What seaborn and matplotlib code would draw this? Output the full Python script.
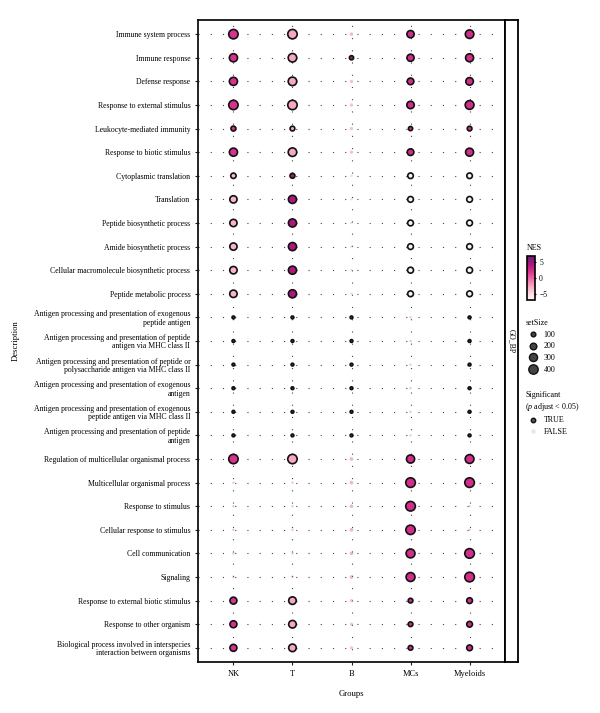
import numpy as np
import pandas as pd
import seaborn as sns
import matplotlib.pyplot as plt
from matplotlib.colors import LinearSegmentedColormap, Normalize
from matplotlib.lines import Line2D
import matplotlib.cm as cm

descriptions = [
    "Immune system process",
    "Immune response",
    "Defense response",
    "Response to external stimulus",
    "Leukocyte-mediated immunity",
    "Response to biotic stimulus",
    "Cytoplasmic translation",
    "Translation",
    "Peptide biosynthetic process",
    "Amide biosynthetic process",
    "Cellular macromolecule biosynthetic process",
    "Peptide metabolic process",
    "Antigen processing and presentation of exogenous\npeptide antigen",
    "Antigen processing and presentation of peptide\nantigen via MHC class II",
    "Antigen processing and presentation of peptide or\npolysaccharide antigen via MHC class II",
    "Antigen processing and presentation of exogenous\nantigen",
    "Antigen processing and presentation of exogenous\npeptide antigen via MHC class II",
    "Antigen processing and presentation of peptide\nantigen",
    "Regulation of multicellular organismal process",
    "Multicellular organismal process",
    "Response to stimulus",
    "Cellular response to stimulus",
    "Cell communication",
    "Signaling",
    "Response to external biotic stimulus",
    "Response to other organism",
    "Biological process involved in interspecies\ninteraction between organisms",
]
groups = ["NK", "T", "B", "MCs", "Myeloids"]

# NES per group (one value per description)
nes_nk = [2.1, 2.1, 2.1, 2.1, 2.1, 2.1, -3.5, -3.2, -3.2, -3.2, -3.2, -3.2,
          5.5, 5.5, 5.5, 5.5, 5.5, 5.5, 2.1, 1.0, 1.0, 1.0, 1.0, 1.0, 2.1, 2.1, 2.1]
nes_t = [-2.6, -2.6, -2.6, -2.6, -2.6, -2.6, 4.2, 4.2, 4.2, 4.2, 4.2, 4.2,
         5.5, 5.5, 5.5, 5.5, 5.5, 5.5, -2.6, 1.0, 1.0, 1.0, 1.0, 1.0, -2.6, -2.6, -2.6]
nes_b = [1.5, 4.0, 1.0, 1.0, 1.0, 1.0, -1.0, -1.0, -1.0, -1.0, -1.0, -1.0,
         5.5, 5.5, 5.5, 5.5, 5.5, 5.5, 2.5, 2.5, 2.5, 2.5, 2.5, 2.5, 0.5, 0.5, 0.5]
nes_mcs = [2.4, 2.4, 2.4, 2.4, 2.4, 2.4, -6.5, -6.5, -6.5, -6.5, -6.5, -6.5,
           1.0, 1.0, 1.0, 1.0, 1.0, 1.0, 2.4, 2.4, 2.4, 2.4, 2.4, 2.4, 2.4, 2.4, 2.4]
nes_mye = [2.4, 2.4, 2.4, 2.4, 2.4, 2.4, -6.5, -6.5, -6.5, -6.5, -6.5, -6.5,
           5.5, 5.5, 5.5, 5.5, 5.5, 5.5, 2.4, 2.4, 1.0, 1.0, 2.4, 2.4, 2.4, 2.4, 2.4]

# setSize per group
size_nk = [400, 300, 300, 400, 110, 300, 130, 240, 240, 240, 250, 250,
           35, 35, 35, 35, 35, 35, 400, 25, 25, 25, 25, 25, 220, 220, 220]
size_t = [400, 330, 330, 400, 100, 330, 110, 300, 300, 300, 300, 300,
          35, 35, 35, 35, 35, 35, 400, 25, 25, 25, 25, 25, 260, 260, 260]
size_b = [60, 80, 50, 50, 50, 50, 25, 25, 25, 25, 25, 25,
          35, 35, 35, 35, 35, 35, 60, 60, 60, 60, 60, 60, 50, 50, 50]
size_mcs = [240, 230, 200, 250, 80, 200, 140, 150, 150, 150, 160, 150,
            25, 25, 25, 25, 25, 25, 300, 420, 460, 400, 360, 360, 100, 100, 100]
size_mye = [330, 290, 260, 350, 100, 290, 140, 150, 150, 150, 160, 150,
            35, 35, 35, 35, 35, 35, 350, 450, 25, 25, 420, 420, 150, 150, 150]

# significance (p.adjust < 0.05)
sig_nk = [True] * 19 + [False] * 5 + [True] * 3
sig_t = [True] * 19 + [False] * 5 + [True] * 3
sig_b = [False, True] + [False] * 10 + [True] * 6 + [False] * 9
sig_mcs = [True] * 12 + [False] * 6 + [True] * 9
sig_mye = [True] * 20 + [False] * 2 + [True] * 5

rows = []
for g, nes, sz, sg in zip(groups,
                          [nes_nk, nes_t, nes_b, nes_mcs, nes_mye],
                          [size_nk, size_t, size_b, size_mcs, size_mye],
                          [sig_nk, sig_t, sig_b, sig_mcs, sig_mye]):
    for i, d in enumerate(descriptions):
        rows.append({"Description": d, "Groups": g, "NES": nes[i],
                     "setSize": sz[i], "Significant": sg[i]})
df = pd.DataFrame(rows)
df["x"] = df["Groups"].map({g: i for i, g in enumerate(groups)})
df["y"] = df["Description"].map({d: i for i, d in enumerate(descriptions)})

cmap = LinearSegmentedColormap.from_list("nes", [
    (0.0, "#fff6f4"), (0.15, "#fcd9e1"), (0.33, "#f6a2bc"), (0.5, "#ec5fa5"),
    (0.65, "#d9318f"), (0.8, "#b0177c"), (1.0, "#6a1b7c")])
nes_norm = (-7, 7)
size_norm = (0, 420)
size_range = (0, 48)

plt.rcParams["font.family"] = ["Liberation Serif", "DejaVu Serif"]
plt.rcParams["mathtext.fontset"] = "custom"
plt.rcParams["mathtext.it"] = "Liberation Serif:italic"
plt.rcParams["mathtext.rm"] = "Liberation Serif"

fig = plt.figure(figsize=(6, 7.13), dpi=100)
ax = fig.add_axes([198 / 600, 1 - 662 / 713, 307 / 600, 642 / 713])

sns.scatterplot(data=df[~df["Significant"]], x="x", y="y", hue="NES", size="setSize",
                palette=cmap, hue_norm=nes_norm, sizes=size_range, size_norm=size_norm,
                alpha=0.35, edgecolor="none", legend=False, ax=ax, zorder=3)
sns.scatterplot(data=df[df["Significant"]], x="x", y="y", hue="NES", size="setSize",
                palette=cmap, hue_norm=nes_norm, sizes=size_range, size_norm=size_norm,
                edgecolor="#111111", linewidth=1.2, legend=False, ax=ax, zorder=4)

ax.set_xlim(-0.6, len(groups) - 0.4)
ax.set_ylim(len(descriptions) - 0.4, -0.6)
ax.set_xticks(range(len(groups)))
ax.set_xticklabels(groups, fontsize=6)
ax.set_yticks(range(len(descriptions)))
ax.set_yticklabels(descriptions, fontsize=5.6, linespacing=1.05)
ax.set_xlabel("Groups", fontsize=6.2, labelpad=9)
ax.set_ylabel("Description", fontsize=6.2, labelpad=10)
ax.tick_params(axis="both", length=2.5, width=0.8, color="#222222", pad=3)
ax.set_axisbelow(True)
ax.grid(True, color="#444444", linestyle=(0, (1, 10)), linewidth=0.8)
for s in ax.spines.values():
    s.set_linewidth(1.3)
    s.set_color("#111111")

# facet strip
sax = fig.add_axes([505 / 600, 1 - 662 / 713, 13 / 600, 642 / 713])
sax.set_xticks([])
sax.set_yticks([])
for s in sax.spines.values():
    s.set_linewidth(1.3)
sax.text(0.5, 0.5, "GO_BP", rotation=-90, ha="center", va="center", fontsize=5.5,
         transform=sax.transAxes)

# NES colorbar
cax = fig.add_axes([527 / 600, 1 - 300 / 713, 8 / 600, 44 / 713])
sm = cm.ScalarMappable(norm=Normalize(*nes_norm), cmap=cmap)
cb = fig.colorbar(sm, cax=cax, ticks=[-5, 0, 5])
cb.ax.set_yticklabels(["\u22125", "0", "5"], fontsize=5.5)
cb.ax.tick_params(length=2, width=0.8, direction="inout", pad=2)
cb.outline.set_linewidth(1.2)
cax.set_title("NES", fontsize=5.8, loc="left", pad=4)


def area_to_ms(v):
    return np.sqrt(size_range[0] + (size_range[1] - size_range[0]) * v / size_norm[1])


size_handles = [Line2D([], [], marker="o", linestyle="", markersize=area_to_ms(v),
                       markerfacecolor="#444444", markeredgecolor="#111111",
                       markeredgewidth=1.0) for v in [100, 200, 300, 400]]
leg1 = fig.legend(size_handles, ["100", "200", "300", "400"], title="setSize",
                  loc="upper left", bbox_to_anchor=(522 / 600, 1 - 316 / 713),
                  frameon=False, fontsize=5.8, title_fontsize=5.8,
                  handletextpad=0.3, labelspacing=0.45, borderaxespad=0)
leg1._legend_box.align = "left"

sig_handles = [
    Line2D([], [], marker="o", linestyle="", markersize=3.2, markerfacecolor="#555555",
           markeredgecolor="#111111", markeredgewidth=1.0),
    Line2D([], [], marker="o", linestyle="", markersize=3.2, markerfacecolor="#e6e6e6",
           markeredgecolor="none"),
]
leg2 = fig.legend(sig_handles, ["TRUE", "FALSE"],
                  title="Significant\n($\\it{p}$ adjust < 0.05)",
                  loc="upper left", bbox_to_anchor=(522 / 600, 1 - 388 / 713),
                  frameon=False, fontsize=5.8, title_fontsize=5.8,
                  handletextpad=0.3, labelspacing=0.45, borderaxespad=0)
leg2._legend_box.align = "left"

fig.savefig("out.png", dpi=100)
